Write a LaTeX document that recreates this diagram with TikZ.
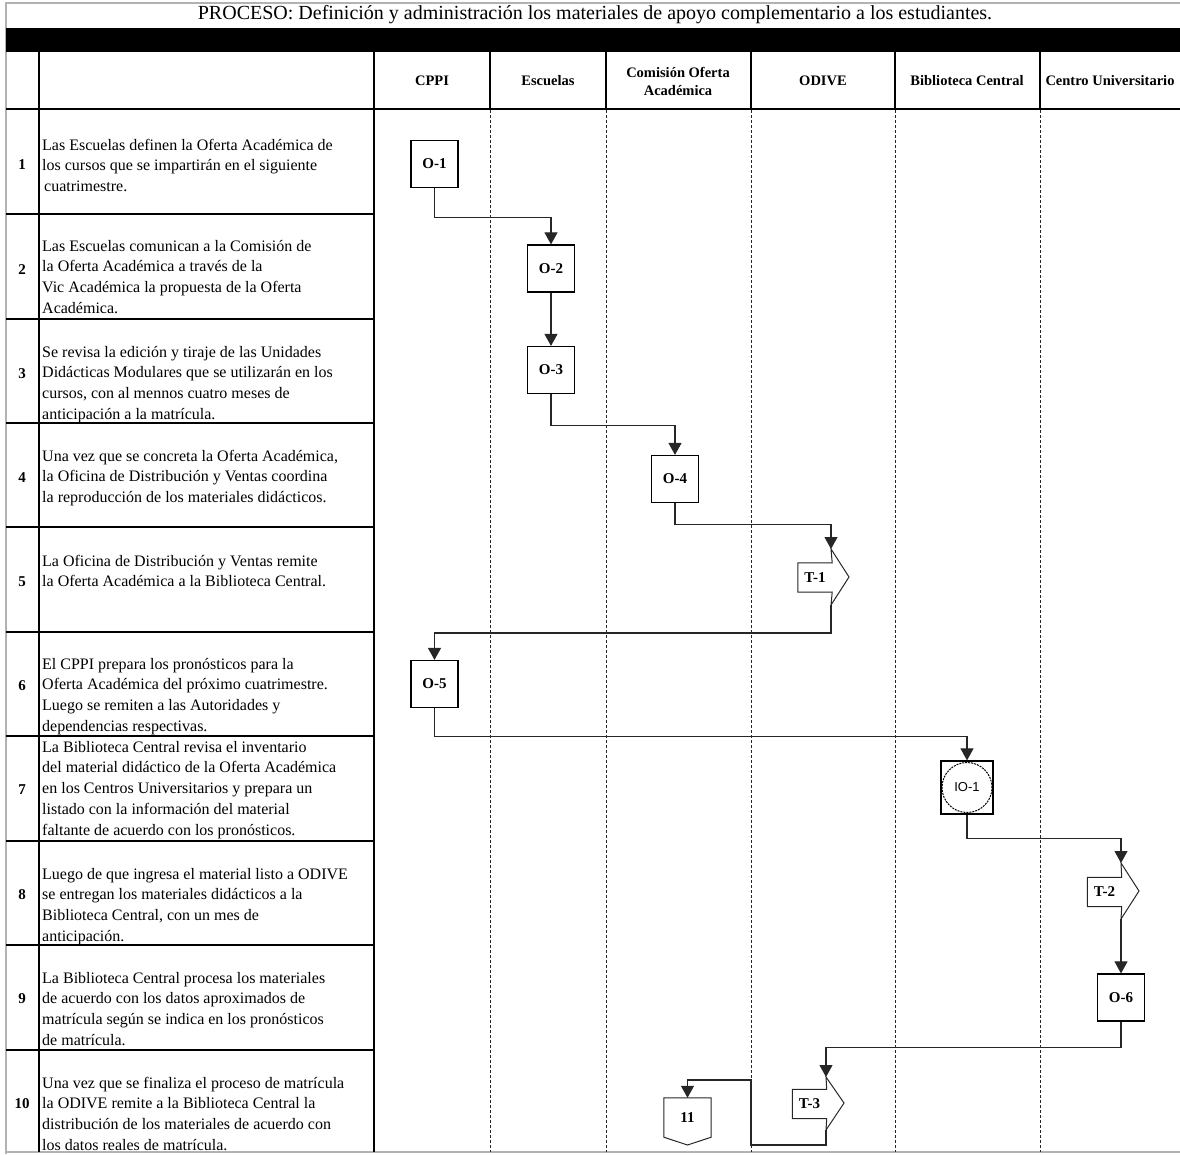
\documentclass[tikz,border=0pt]{standalone}
\usepackage{fontspec}
\setmainfont{Liberation Serif}
\newfontfamily\iofont{Liberation Sans}
\usetikzlibrary{arrows.meta}
\newcommand{\desctext}[1]{\parbox[t]{332pt}{\raggedright\fontsize{16}{20.8}\selectfont #1}}
\begin{document}
\begin{tikzpicture}[x=1pt,y=-1pt,
 tbl/.style={line width=2.6pt,black},
 frameline/.style={line width=1.3pt,black!30},
 lane/.style={line width=0.9pt,black!85,dash pattern=on 3pt off 2pt},
 opbox/.style={draw,line width=1.2pt,minimum width=47pt,minimum height=47pt,inner sep=0pt,font=\bfseries\fontsize{15}{15}\selectfont},
 tlabel/.style={minimum width=34pt,minimum height=29pt,inner sep=0pt,font=\bfseries\fontsize{15}{15}\selectfont},
 shapeline/.style={line width=1pt,black!85,line join=miter},
 flow/.style={line width=1.1pt,black!85,-{Triangle[length=12pt,width=13pt]}},
 desc/.style={anchor=base west,inner sep=0pt},
 num/.style={font=\bfseries\fontsize{15}{15}\selectfont,inner sep=0pt},
 head/.style={font=\bfseries\fontsize{14.5}{18}\selectfont,align=center,inner sep=0pt}
]
\useasboundingbox (0,0) rectangle (1180,1154);
% frame and title
\draw[frameline] (6,1154) -- (6,3) -- (1180,3);
\draw[frameline] (6,1152) -- (1180,1152);
\node[font=\fontsize{20}{20}\selectfont,inner sep=0pt] (title) at (595,15) {PROCESO: Definición y administración los materiales de apoyo complementario a los estudiantes.};
\fill[black] (6,28) rectangle (1180,52);
% header row
\foreach \xx in {39,374,490,606,751,895,1040} {\draw[tbl] (\xx,52) -- (\xx,109);}
\draw[tbl] (6,109) -- (1180,109);
\node[head] (hcppi) at (432,81) {CPPI};
\node[head] (hesc) at (548,81) {Escuelas};
\node[head] (hcom) at (678,81) {Comisión Oferta\\Académica};
\node[head] (hodive) at (823,81) {ODIVE};
\node[head] (hbib) at (967,81) {Biblioteca Central};
\node[head] (hcu) at (1110,81) {Centro Universitario};
% left table
\foreach \yy in {214,319,423,527,632,736,841,945,1050} {\draw[tbl] (6,\yy) -- (374,\yy);}
\draw[tbl] (39,109) -- (39,1152);
\draw[tbl] (374,109) -- (374,1152);
% lanes
\foreach \xx in {490,606,751,895,1040} {\draw[lane] (\xx,110) -- (\xx,1152);}
% numbers
\node[num] (n1) at (22,165) {1};
\node[num] (n2) at (22,270) {2};
\node[num] (n3) at (22,374) {3};
\node[num] (n4) at (22,478) {4};
\node[num] (n5) at (22,582) {5};
\node[num] (n6) at (22,686) {6};
\node[num] (n7) at (22,790) {7};
\node[num] (n8) at (22,895) {8};
\node[num] (n9) at (22,999) {9};
\node[num] (n10) at (22,1104) {10};
% descriptions
\node[desc] (d1) at (42,150) {\desctext{Las Escuelas definen la Oferta Académica de\\los cursos que se impartirán en el siguiente\\\hspace*{2pt}cuatrimestre.}};
\node[desc] (d2) at (42,251) {\desctext{Las Escuelas comunican a la Comisión de\\la Oferta Académica a través de la\\Vic Académica la propuesta de la Oferta\\Académica.}};
\node[desc] (d3) at (42,357) {\desctext{Se revisa la edición y tiraje de las Unidades\\Didácticas Modulares que se utilizarán en los\\cursos, con al mennos cuatro meses de\\anticipación a la matrícula.}};
\node[desc] (d4) at (42,461) {\desctext{Una vez que se concreta la Oferta Académica,\\la Oficina de Distribución y Ventas coordina\\la reproducción de los materiales didácticos.}};
\node[desc] (d5) at (42,566) {\desctext{La Oficina de Distribución y Ventas remite\\la Oferta Académica a la Biblioteca Central.}};
\node[desc] (d6) at (42,669) {\desctext{El CPPI prepara los pronósticos para la\\Oferta Académica del próximo cuatrimestre.\\Luego se remiten a las Autoridades y\\dependencias respectivas.}};
\node[desc] (d7) at (42,752) {\desctext{La Biblioteca Central revisa el inventario\\del material didáctico de la Oferta Académica\\en los Centros Universitarios y prepara un\\listado con la información del material\\faltante de acuerdo con los pronósticos.}};
\node[desc] (d8) at (42,879) {\desctext{Luego de que ingresa el material listo a ODIVE\\se entregan los materiales didácticos a la\\Biblioteca Central, con un mes de\\anticipación.}};
\node[desc] (d9) at (42,983) {\desctext{La Biblioteca Central procesa los materiales\\de acuerdo con los datos aproximados de\\matrícula según se indica en los pronósticos\\de matrícula.}};
\node[desc] (d10) at (42,1088) {\desctext{Una vez que se finaliza el proceso de matrícula\\la ODIVE remite a la Biblioteca Central la\\distribución de los materiales de acuerdo con\\los datos reales de matrícula.}};
% operation boxes
\node[opbox] (o1) at (434.5,164) {O-1};
\node[opbox] (o2) at (551,268.5) {O-2};
\node[opbox] (o3) at (551,370) {O-3};
\node[opbox] (o4) at (675,479) {O-4};
\node[opbox] (o5) at (434.5,684) {O-5};
\node[opbox] (o6) at (1121,997.5) {O-6};
% IO-1
\node[draw,line width=1.2pt,minimum width=52pt,minimum height=53pt,inner sep=0pt,font=\iofont\fontsize{13}{13}\selectfont] (io1) at (967,787.5) {IO-1};
\draw[line width=1pt,dash pattern=on 2pt off 1pt] (io1.center) circle[radius=25pt];
% transport shapes
\node[tlabel] (t1) at (815,577.5) {T-1};
\coordinate (t1in) at (831,549);
\coordinate (t1pt) at (849,577);
\coordinate (t1out) at (831,605);
\draw[shapeline] (t1.north west) -- (t1.north east) -- (t1in) -- (t1pt) -- (t1out) -- (t1.south east) -- (t1.south west) -- cycle;
\node[tlabel] (t2) at (1104.5,892) {T-2};
\coordinate (t2in) at (1121,863);
\coordinate (t2pt) at (1139,891);
\coordinate (t2out) at (1121,919);
\draw[shapeline] (t2.north west) -- (t2.north east) -- (t2in) -- (t2pt) -- (t2out) -- (t2.south east) -- (t2.south west) -- cycle;
\node[tlabel] (t3) at (809.5,1104) {T-3};
\coordinate (t3in) at (826,1077);
\coordinate (t3pt) at (844,1103);
\coordinate (t3out) at (826,1130);
\draw[shapeline] (t3.north west) -- (t3.north east) -- (t3in) -- (t3pt) -- (t3out) -- (t3.south east) -- (t3.south west) -- cycle;
% off-page connector 11
\node[minimum width=47pt,minimum height=39pt,inner sep=0pt,font=\bfseries\fontsize{15}{15}\selectfont] (p11) at (687.5,1117.5) {11};
\coordinate (p11tip) at (687.5,1145);
\draw[shapeline] (p11.south west) -- (p11.north west) -- (p11.north east) -- (p11.south east) -- (p11tip) -- cycle;
% connectors
\draw[flow] (o1.south) -- ++(0,29) -| (o2.north);
\draw[flow] (o2.south) -- (o3.north);
\draw[flow] (o3.south) -- ++(0,31) -| (o4.north);
\draw[flow] (o4.south) -- ++(0,21) -| (t1in);
\draw[flow] (t1out) -- ++(0,28) -| (o5.north);
\draw[flow] (o5.south) -- ++(0,28) -| (io1.north);
\draw[flow] (io1.south) -- ++(0,24) -| (t2in);
\draw[flow] (t2out) -- (o6.north);
\draw[flow] (o6.south) -- ++(0,26) -| (t3in);
\coordinate (j1) at (751,1145);
\coordinate (j2) at (751,1080);
\draw[flow] (t3out) |- (j1) -- (j2) -| (p11.north);
\end{tikzpicture}
\end{document}
